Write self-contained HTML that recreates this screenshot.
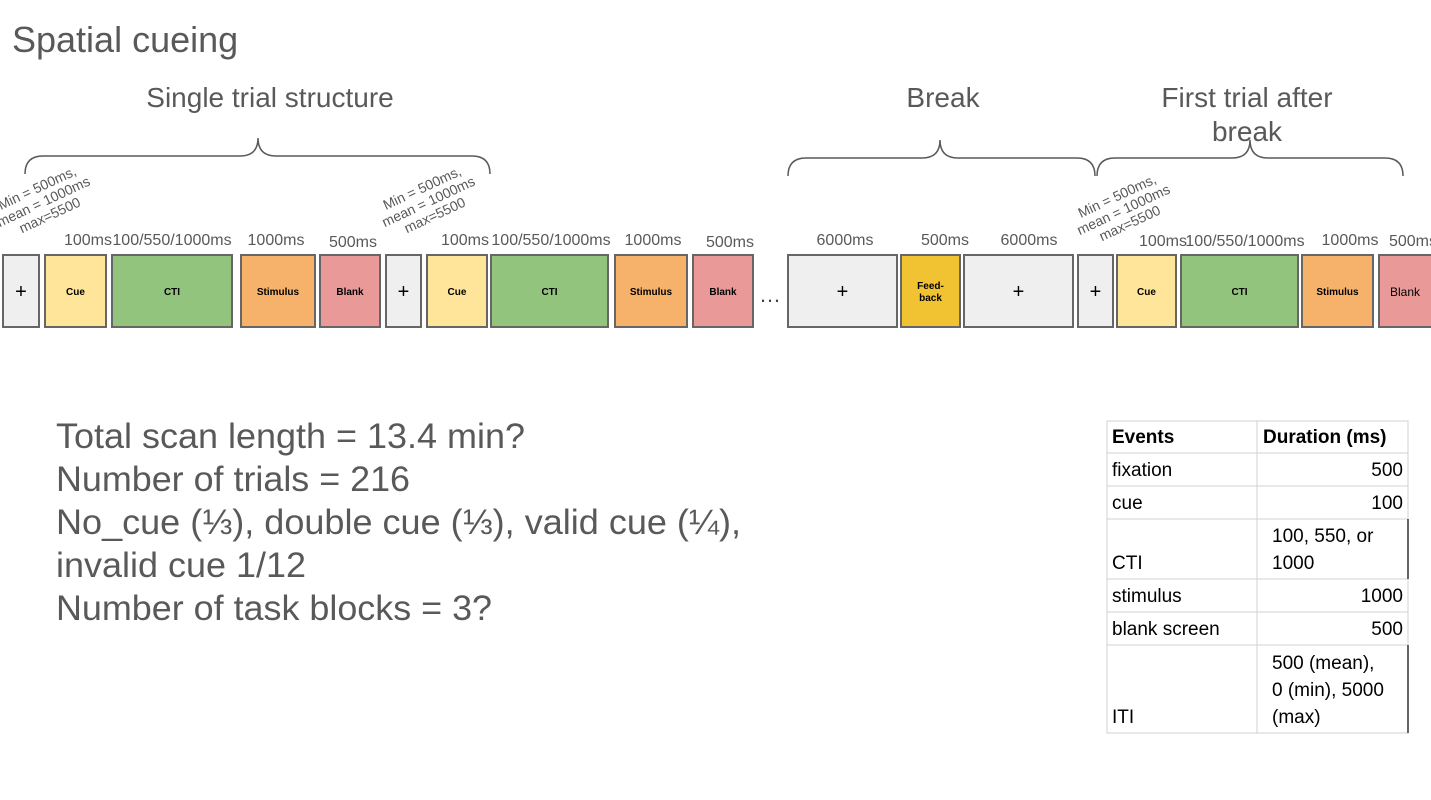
<!DOCTYPE html>
<html><head><meta charset="utf-8"><style>
html,body{margin:0;padding:0;background:#fff;}
svg{display:block;font-family:"Liberation Sans",Arial,sans-serif;}
</style></head><body>
<svg width="1431" height="800" viewBox="0 0 1431 800">
<text x="12" y="52" font-size="36" fill="#595959">Spatial cueing</text>
<g font-size="28" fill="#595959" text-anchor="middle">
<text x="270" y="107">Single trial structure</text>
<text x="943" y="107">Break</text>
<text x="1247" y="107">First trial after</text>
<text x="1247" y="141">break</text>
</g>
<g fill="none" stroke="#595959" stroke-width="1.5">
<path d="M25 174 Q25 156 43 156 L240 156 Q258 156 258 138 Q258 156 276 156 L472 156 Q490 156 490 174"/>
<path d="M788 176 Q788 158 806 158 L922 158 Q940 158 940 140 Q940 158 958 158 L1077 158 Q1095 158 1095 176"/>
<path d="M1097 176 Q1097 158 1115 158 L1232 158 Q1250 158 1250 140 Q1250 158 1268 158 L1385 158 Q1403 158 1403 176"/>
</g>
<g id="boxes" stroke="#666" stroke-width="2"></g>
<text x="770" y="302" font-size="22" fill="#444" text-anchor="middle">…</text>
<g font-size="16" fill="#595959" text-anchor="middle">
<text x="88" y="245">100ms</text><text x="172" y="245">100/550/1000ms</text><text x="276" y="245">1000ms</text><text x="353" y="247">500ms</text>
<text x="465" y="245">100ms</text><text x="551" y="245">100/550/1000ms</text><text x="653" y="245">1000ms</text><text x="730" y="247">500ms</text>
<text x="845" y="245">6000ms</text><text x="945" y="245">500ms</text><text x="1029" y="245">6000ms</text>
<text x="1163" y="246">100ms</text><text x="1245" y="246">100/550/1000ms</text><text x="1350" y="245">1000ms</text><text x="1413" y="246">500ms</text>
</g>
<g font-size="14" fill="#595959" text-anchor="middle">
<g transform="translate(45,205) rotate(-25)"><text y="-14">Min = 500ms,</text><text y="1">mean = 1000ms</text><text y="16">max=5500</text></g>
<g transform="translate(430,205) rotate(-25)"><text y="-14">Min = 500ms,</text><text y="1">mean = 1000ms</text><text y="16">max=5500</text></g>
<g transform="translate(1125,213) rotate(-25)"><text y="-14">Min = 500ms,</text><text y="1">mean = 1000ms</text><text y="16">max=5500</text></g>
</g>
<g font-size="35" fill="#595959">
<text x="56" y="448" textLength="469" lengthAdjust="spacingAndGlyphs">Total scan length = 13.4 min?</text>
<text x="56" y="491" textLength="354" lengthAdjust="spacingAndGlyphs">Number of trials = 216</text>
<text x="56" y="534" textLength="685" lengthAdjust="spacingAndGlyphs">No_cue (⅓), double cue (⅓), valid cue (¼),</text>
<text x="56" y="577" textLength="250" lengthAdjust="spacingAndGlyphs">invalid cue 1/12</text>
<text x="56" y="620" textLength="436" lengthAdjust="spacingAndGlyphs">Number of task blocks = 3?</text>
</g>
<g id="table">
<g stroke="#d0d0d0" stroke-width="1" fill="none">
<rect x="1107" y="421" width="301" height="312"/>
<line x1="1257" y1="421" x2="1257" y2="733"/>
<line x1="1107" y1="453" x2="1408" y2="453"/><line x1="1107" y1="486" x2="1408" y2="486"/>
<line x1="1107" y1="519" x2="1408" y2="519"/><line x1="1107" y1="579" x2="1408" y2="579"/>
<line x1="1107" y1="612" x2="1408" y2="612"/><line x1="1107" y1="645" x2="1408" y2="645"/>
</g>
<line x1="1408" y1="519" x2="1408" y2="579" stroke="#333" stroke-width="1.5"/>
<line x1="1408" y1="645" x2="1408" y2="733" stroke="#333" stroke-width="1.5"/>
<g font-size="19" fill="#000">
<text x="1112" y="443" font-weight="bold">Events</text><text x="1263" y="443" font-weight="bold">Duration (ms)</text>
<text x="1112" y="476">fixation</text><text x="1403" y="476" text-anchor="end">500</text>
<text x="1112" y="509">cue</text><text x="1403" y="509" text-anchor="end">100</text>
<text x="1112" y="569">CTI</text><text x="1272" y="542">100, 550, or</text><text x="1272" y="569">1000</text>
<text x="1112" y="602">stimulus</text><text x="1403" y="602" text-anchor="end">1000</text>
<text x="1112" y="635">blank screen</text><text x="1403" y="635" text-anchor="end">500</text>
<text x="1112" y="723">ITI</text><text x="1272" y="669">500 (mean),</text><text x="1272" y="696">0 (min), 5000</text><text x="1272" y="723">(max)</text>
</g>
</g>
</svg>
<script>
const boxNames=["+","Cue","CTI","Stimulus","Blank","+","Cue","CTI","Stimulus","Blank","+","Feed-back","+","+","Cue","CTI","Stimulus","Blank"];
const boxX0=[3,45,112,241,320,386,427,491,615,693,788,901,964,1078,1117,1181,1302,1379];
const boxX1=[39,106,232,315,380,421,487,608,687,753,897,960,1073,1113,1176,1298,1373,1440];
const colors={"+":"#efefef","Cue":"#ffe599","CTI":"#93c47d","Stimulus":"#f6b26b","Blank":"#ea9999","Feed-back":"#f1c232"};
const g=document.getElementById('boxes');
const NS="http://www.w3.org/2000/svg";
boxNames.forEach((n,i)=>{
 const r=document.createElementNS(NS,'rect');
 r.setAttribute('x',boxX0[i]);r.setAttribute('y',255);
 r.setAttribute('width',boxX1[i]-boxX0[i]);r.setAttribute('height',72);
 r.setAttribute('fill',colors[n]);
 
 
 g.appendChild(r);
 const cx=(boxX0[i]+Math.min(boxX1[i],1431))/2;
 const addT=(s,y,size,w)=>{const t=document.createElementNS(NS,'text');t.setAttribute('x',cx);t.setAttribute('y',y);t.setAttribute('text-anchor','middle');t.setAttribute('font-size',size);t.setAttribute('font-weight',w);t.setAttribute('stroke','none');t.setAttribute('fill','#000');t.textContent=s;
 
 
 g.appendChild(t);};
 if(n==="+")addT("+",298,20,"normal");
 else if(n==="Feed-back"){addT("Feed-",289,10,"bold");addT("back",301,10,"bold");}
 else if(i===17)addT("Blank",296,12,"normal");
 else addT(n,295,10,"bold");
});
</script>
</body></html>
